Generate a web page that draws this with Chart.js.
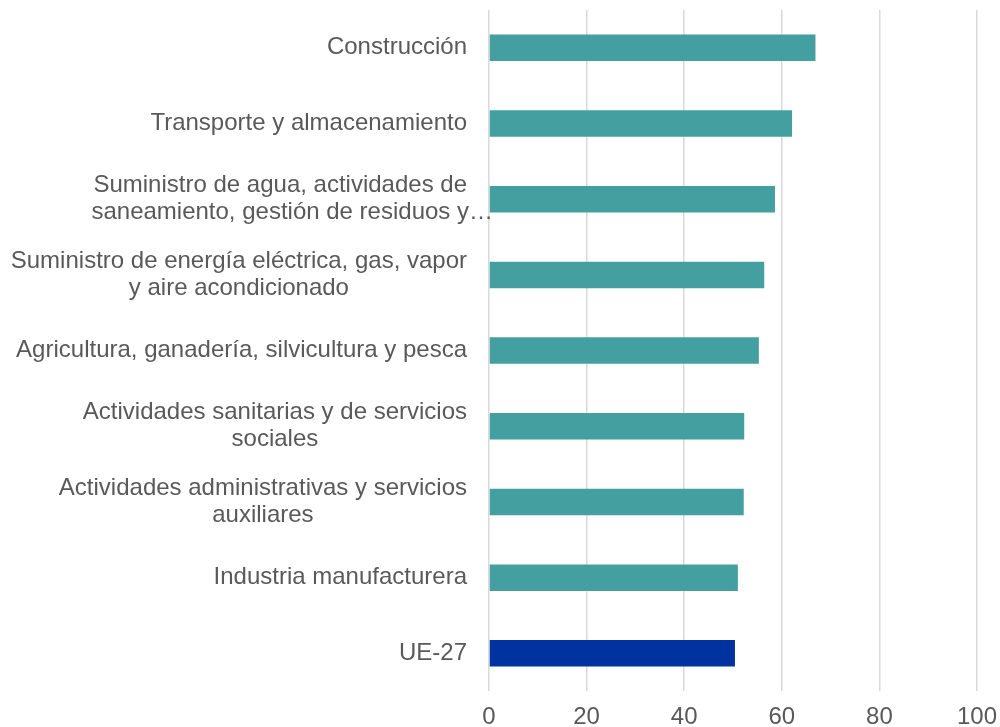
<!DOCTYPE html>
<html>
<head>
<meta charset="utf-8">
<script src="https://cdn.jsdelivr.net/npm/chart.js@4/dist/chart.umd.min.js"></script>
<style>
  html, body { margin: 0; padding: 0; background: #ffffff; }
  #wrap { width: 1000px; height: 727px; position: relative; }
</style>
</head>
<body>
<div id="wrap"><canvas id="c" width="1000" height="727"></canvas></div>
<script>
const categories = [
  ["Construcción"],
  ["Transporte y almacenamiento"],
  ["Suministro de agua, actividades de", "saneamiento, gestión de residuos y…"],
  ["Suministro de energía eléctrica, gas, vapor", "y aire acondicionado"],
  ["Agricultura, ganadería, silvicultura y pesca"],
  ["Actividades sanitarias y de servicios", "sociales"],
  ["Actividades administrativas y servicios", "auxiliares"],
  ["Industria manufacturera"],
  ["UE-27"]
];
const values = [66.9, 62.1, 58.6, 56.4, 55.3, 52.3, 52.2, 51.0, 50.4];
const xTicks = [0, 20, 40, 60, 80, 100];

const TEAL = "#44A0A0";
const BLUE = "#0033A0";
const TEXT = "#595959";
const FONT = '"Liberation Sans", Arial, sans-serif';
const FONT_SIZE = 24;

const labelPlugin = {
  id: 'catLabels',
  afterDraw(chart) {
    const ctx = chart.ctx;
    const ys = chart.scales.y;
    const rightEdge = chart.chartArea.left - 22;
    const lineH = 27;
    ctx.save();
    ctx.font = FONT_SIZE + 'px ' + FONT;
    ctx.fillStyle = TEXT;
    ctx.textBaseline = 'middle';
    categories.forEach((lines, i) => {
      const cy = ys.getPixelForValue(i);
      const core = lines.map(l => l.endsWith('…') ? l.slice(0, -1) : l);
      let blockW = 0;
      lines.forEach((l) => {
        if (!l.endsWith('…')) blockW = Math.max(blockW, ctx.measureText(l).width);
      });
      if (blockW === 0) blockW = Math.max(...core.map(l => ctx.measureText(l).width));
      const centerX = rightEdge - blockW / 2;
      const n = lines.length;
      lines.forEach((l, k) => {
        const w = ctx.measureText(core[k]).width;
        const y = cy + (k - (n - 1) / 2) * lineH;
        ctx.textAlign = 'left';
        ctx.fillText(l, centerX - w / 2, y);
      });
    });
    ctx.restore();
  }
};

new Chart(document.getElementById('c'), {
  type: 'bar',
  data: {
    labels: categories.map(c => c.join(' ')),
    datasets: [{
      data: values,
      backgroundColor: values.map((v, i) => i === values.length - 1 ? BLUE : TEAL),
      borderWidth: 0,
      barPercentage: 0.35,
      categoryPercentage: 1.0
    }]
  },
  options: {
    indexAxis: 'y',
    responsive: false,
    animation: false,
    events: [],
    layout: { padding: { top: 10, right: 0, bottom: -17, left: 0 } },
    plugins: { legend: { display: false }, tooltip: { enabled: false } },
    scales: {
      y: {
        type: 'category',
        grid: { display: false },
        border: { display: false },
        ticks: { display: false },
        afterFit(scale) { scale.width = 489; }
      },
      x: {
        min: 0,
        max: 100,
        afterBuildTicks(scale) { scale.ticks = xTicks.map(v => ({ value: v })); },
        afterFit(scale) { scale.paddingRight = 23; },
        grid: { color: '#D9D9D9', lineWidth: 1.5, drawTicks: false },
        border: { display: false },
        ticks: {
          color: TEXT,
          padding: 12,
          font: { family: FONT, size: FONT_SIZE }
        }
      }
    }
  },
  plugins: [labelPlugin]
});
</script>
</body>
</html>
